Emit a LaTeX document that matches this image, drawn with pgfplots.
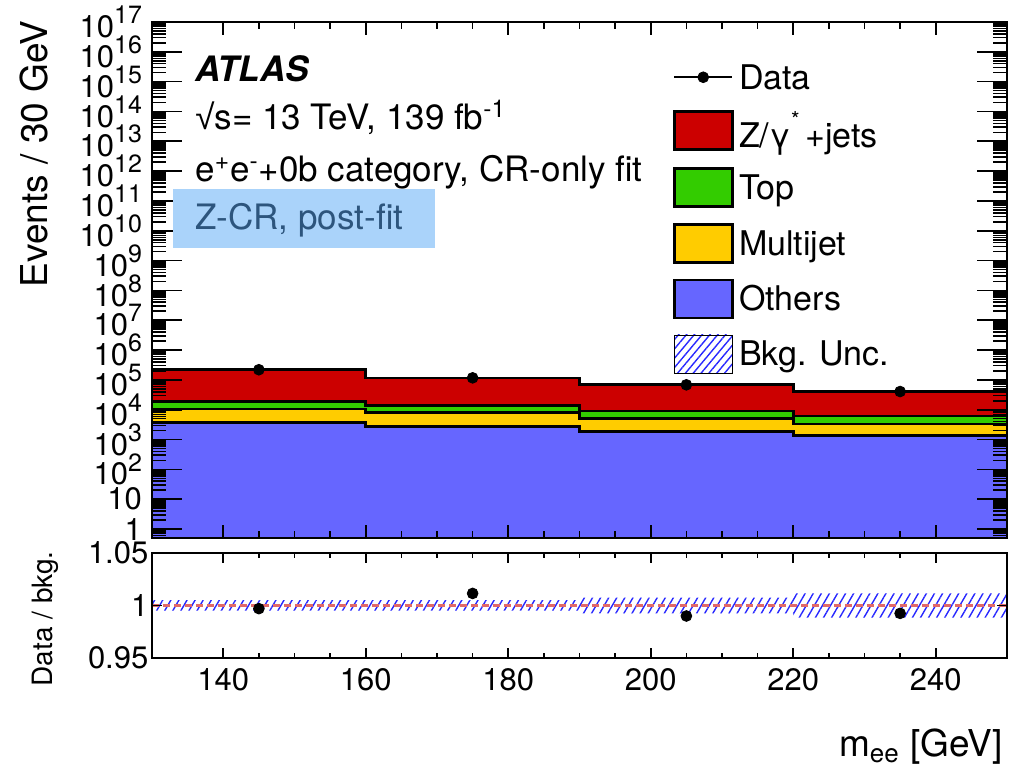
\documentclass[border=0pt]{standalone}
\usepackage{fontspec}
\setmainfont{TeX Gyre Heros}
\newfontfamily\libsans{Liberation Sans}
\usepackage{pgfplots}
\pgfplotsset{compat=1.18}
\usetikzlibrary{patterns.meta}

\definecolor{zred}{RGB}{204,0,0}
\definecolor{topgreen}{RGB}{51,204,0}
\definecolor{mjyellow}{RGB}{255,204,0}
\definecolor{othblue}{RGB}{102,102,255}
\definecolor{hatchblue}{RGB}{40,40,255}
\definecolor{boxblue}{RGB}{170,211,250}
\definecolor{boxtext}{RGB}{45,85,125}
\definecolor{ratioline}{RGB}{225,105,105}

\def\mylist{0.6,0.7,0.8,0.9}
\foreach \e in {0,...,16}{\foreach \m in {2,...,9}{\xdef\mylist{\mylist,\m e\e}}}

\newcommand{\tp}[1]{10\raisebox{0.45em}{\fontsize{12.5}{13}\selectfont #1}}
\newcommand{\txt}{\fontsize{17.5}{20}\selectfont}
\newcommand{\lgd}{\fontsize{17}{19}\selectfont}
\newcommand{\tck}{\fontsize{15.5}{18}\selectfont}

\begin{document}
\begin{tikzpicture}
\useasboundingbox (0pt,0pt) rectangle (504.5pt,-385pt);

% ---------- main panel (data) ----------
\begin{axis}[
  name=main, at={(76pt,-11pt)}, anchor=north west,
  scale only axis, width=427.5pt, height=258pt,
  ymode=log, xmin=130, xmax=250, ymin=0.5, ymax=1e17,
  axis on top, axis line style={line width=1pt},
  xtick={140,160,...,240}, minor x tick num=3, xticklabels={},
  major tick length=6.5pt, minor tick length=3.5pt,
  ytick=\empty, yminorticks=false,
  tick style={line width=0.8pt, black},
  legend style={at={(axis description cs:0.6018,0.934)}, anchor=north west,
    draw=none, fill=none, font=\lgd, row sep=7.5pt,
    nodes={inner ysep=1pt, inner xsep=2.75pt}},
  legend cell align=left,
]
\addlegendimage{legend image code/.code={\draw[black, line width=0.8pt] (0pt,0pt) -- (29pt,0pt); \fill[black] (14.5pt,0pt) circle (2.7pt);}}
\addlegendentry{\strut Data}
\addlegendimage{legend image code/.code={\draw[fill=zred, draw=black, line width=1.3pt] (0pt,-9.5pt) rectangle (29pt,9.5pt);}}
\addlegendentry{\strut Z/γ\raisebox{0.6em}{\fontsize{11}{12}\selectfont *}\,+jets}
\addlegendimage{legend image code/.code={\draw[fill=topgreen, draw=black, line width=1.3pt] (0pt,-9.5pt) rectangle (29pt,9.5pt);}}
\addlegendentry{\strut Top}
\addlegendimage{legend image code/.code={\draw[fill=mjyellow, draw=black, line width=1.3pt] (0pt,-9.5pt) rectangle (29pt,9.5pt);}}
\addlegendentry{\strut Multijet}
\addlegendimage{legend image code/.code={\draw[fill=othblue, draw=black, line width=1.3pt] (0pt,-9.5pt) rectangle (29pt,9.5pt);}}
\addlegendentry{\strut Others}
\addlegendimage{legend image code/.code={\fill[pattern={Lines[angle=50,distance=3pt,line width=0.7pt]}, pattern color=hatchblue] (0pt,-9.5pt) rectangle (29pt,9.5pt);}}
\addlegendentry{\strut Bkg. Unc.}

% stacked histograms (cumulative heights)
\addplot[fill=zred, draw=black, line width=1.3pt, forget plot] coordinates
  {(130,0.1)(130,2.2e5)(160,2.2e5)(160,1.16e5)(190,1.16e5)(190,6.9e4)(220,6.9e4)(220,4.1e4)(250,4.1e4)(250,0.1)} -- cycle;
\addplot[fill=topgreen, draw=black, line width=1.3pt, forget plot] coordinates
  {(130,0.1)(130,1.93e4)(160,1.93e4)(160,1.4e4)(190,1.4e4)(190,9.0e3)(220,9.0e3)(220,6.1e3)(250,6.1e3)(250,0.1)} -- cycle;
\addplot[fill=mjyellow, draw=black, line width=1.3pt, forget plot] coordinates
  {(130,0.1)(130,1.05e4)(160,1.05e4)(160,7.9e3)(190,7.9e3)(190,5.1e3)(220,5.1e3)(220,3.35e3)(250,3.35e3)(250,0.1)} -- cycle;
\addplot[fill=othblue, draw=black, line width=1.3pt, forget plot] coordinates
  {(130,0.1)(130,3.8e3)(160,3.8e3)(160,2.7e3)(190,2.7e3)(190,1.9e3)(220,1.9e3)(220,1.35e3)(250,1.35e3)(250,0.1)} -- cycle;
% data
\addplot[only marks, mark=*, mark size=2.7pt, black, forget plot] coordinates
  {(145,2.19e5)(175,1.17e5)(205,6.83e4)(235,4.07e4)};
\end{axis}

% ---------- main panel (y ticks overlay) ----------
\begin{axis}[
  at={(76pt,-11pt)}, anchor=north west,
  scale only axis, width=427.5pt, height=258pt,
  ymode=log, xmin=130, xmax=250, ymin=0.5, ymax=1e17,
  axis line style={line width=1pt},
  xtick=\empty, xminorticks=false,
  ytick={1,10,100,1e3,1e4,1e5,1e6,1e7,1e8,1e9,1e10,1e11,1e12,1e13,1e14,1e15,1e16,1e17},
  yticklabels={1,10,\tp{2},\tp{3},\tp{4},\tp{5},\tp{6},\tp{7},\tp{8},\tp{9},\tp{10},\tp{11},\tp{12},\tp{13},\tp{14},\tp{15},\tp{16},\tp{17}},
  minor ytick/.expand once=\mylist,
  major tick length=15pt, minor tick length=7pt,
  tick style={line width=0.8pt, black},
  yticklabel style={font=\tck, inner ysep=0pt, xshift=-1.5pt},
]
\addplot[draw=none, forget plot] coordinates {(130,1)(250,1)};
\end{axis}

% ---------- ratio panel ----------
\begin{axis}[
  at={(76pt,-276.5pt)}, anchor=north west,
  scale only axis, width=427.5pt, height=52.5pt,
  xmin=130, xmax=250, ymin=0.95, ymax=1.05,
  axis on top, axis line style={line width=1pt},
  xtick={140,160,...,240}, minor x tick num=3,
  ytick={0.95,1,1.05}, yticklabels={0.95,1,1.05}, minor y tick num=0,
  major tick length=5pt, minor tick length=2.5pt,
  tick style={line width=0.8pt, black},
  /pgf/number format/assume math mode=true,
  xticklabel style={font=\tck, yshift=-1.5pt},
  yticklabel style={font=\tck, inner ysep=0pt, xshift=1.7pt},
]
\addplot[draw=none, pattern={Lines[angle=60,distance=3.5pt,line width=0.7pt]}, pattern color=hatchblue, forget plot] coordinates
  {(130,1.005)(160,1.005)(160,1.005)(190,1.005)(190,1.0075)(220,1.0075)(220,1.0115)(250,1.0115)
   (250,0.9885)(220,0.9885)(220,0.9925)(190,0.9925)(190,0.995)(160,0.995)(160,0.995)(130,0.995)} -- cycle;
\addplot[ratioline, line width=1.5pt, dash pattern=on 3.3pt off 2.2pt, forget plot] coordinates {(130,1)(250,1)};
\addplot[only marks, mark=*, mark size=2.7pt, black, forget plot] coordinates
  {(145,0.997)(175,1.0115)(205,0.990)(235,0.9925)};
\end{axis}

% ---------- texts ----------
\node[anchor=base west, inner sep=0pt, font=\txt] at (97.5pt,-41pt) {\textbf{\textit{ATLAS}}};
\node[anchor=base west, inner sep=0pt, font=\txt] at (97.5pt,-65pt) {{\libsans √}s= 13 TeV, 139 fb\textsuperscript{-1}};
\node[anchor=base west, inner sep=0pt, font=\txt] at (97.5pt,-91pt) {e\textsuperscript{+}e\textsuperscript{-}+0b category, CR-only fit};
\fill[boxblue] (86.5pt,-94.5pt) rectangle (217.5pt,-124pt);
\node[anchor=base west, inner sep=0pt, font=\txt, text=boxtext] at (97.5pt,-115pt) {Z-CR, post-fit};

\node[rotate=90, anchor=base east, inner sep=0pt, font=\fontsize{18.5}{22}\selectfont] at (23.5pt,-10pt) {Events / 30 GeV};
\node[rotate=90, anchor=base east, inner sep=0pt, font=\fontsize{14}{17}\selectfont] at (26.5pt,-275.5pt) {Data / bkg.};
\node[anchor=base east, inner sep=0pt, font=\fontsize{18.5}{22}\selectfont] at (501.5pt,-378.5pt) {m\textsubscript{ee} [GeV]};
\end{tikzpicture}
\end{document}
